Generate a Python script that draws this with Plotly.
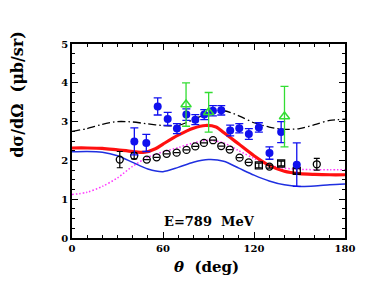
import plotly.graph_objects as go

# ---- theory curves ----
red_theta = [0, 10, 20, 30, 40, 48, 55, 60, 70, 80, 88, 95, 100, 105, 110, 120, 130, 140, 150, 160, 170, 180]
red_vals = [2.32, 2.32, 2.31, 2.27, 2.23, 2.21, 2.30, 2.42, 2.65, 2.83, 2.90, 2.86, 2.72, 2.57, 2.42, 2.12, 1.87, 1.72, 1.66, 1.64, 1.63, 1.63]

blue_theta = [0, 10, 20, 30, 40, 50, 60, 70, 80, 90, 100, 110, 120, 130, 140, 150, 160, 170, 180]
blue_vals = [2.22, 2.23, 2.21, 2.12, 1.95, 1.78, 1.71, 1.82, 1.95, 2.02, 1.98, 1.80, 1.62, 1.47, 1.37, 1.33, 1.34, 1.37, 1.39]

mag_theta = [0, 10, 20, 30, 40, 50, 60, 70, 80, 90, 100, 110, 120, 130, 140, 150, 160, 170, 180]
mag_vals = [1.12, 1.18, 1.33, 1.55, 1.85, 2.08, 2.22, 2.33, 2.45, 2.52, 2.45, 2.25, 2.05, 1.88, 1.80, 1.77, 1.76, 1.76, 1.76]

dd_theta = [0, 10, 20, 30, 40, 50, 60, 70, 80, 90, 100, 110, 120, 130, 140, 150, 160, 170, 180]
dd_vals = [2.75, 2.82, 2.93, 3.00, 2.99, 2.94, 2.90, 2.90, 3.05, 3.22, 3.28, 3.15, 2.97, 2.86, 2.80, 2.82, 2.92, 3.03, 3.06]

# ---- data ----
blue_pts_theta = [41.1, 49.0, 56.5, 63.1, 69.2, 75.4, 81.3, 87.2, 92.9, 98.4, 104.3, 110.3, 116.6, 123.2, 130.2, 137.9, 148.2]
blue_pts_vals = [2.49, 2.45, 3.39, 3.07, 2.82, 3.18, 3.05, 3.18, 3.28, 3.29, 2.77, 2.83, 2.68, 2.85, 2.19, 2.73, 1.89]
blue_pts_err = [0.35, 0.22, 0.22, 0.17, 0.13, 0.15, 0.13, 0.13, 0.13, 0.12, 0.14, 0.12, 0.14, 0.12, 0.16, 0.27, 0.56]

green_theta = [75.2, 90.1, 140.1]
green_vals = [3.44, 3.24, 3.13]
green_err = [0.56, 0.51, 0.78]

circ_theta = [31.5, 41.0, 49.3, 55.8, 62.4, 69.0, 75.5, 81.3, 87.0, 93.0, 98.4, 104.0, 110.5, 116.5, 130.2, 161.4]
circ_vals = [2.02, 2.12, 2.02, 2.08, 2.17, 2.20, 2.27, 2.36, 2.45, 2.52, 2.37, 2.28, 2.07, 1.95, 1.84, 1.90]
circ_err = [0.21, 0.08, 0, 0, 0, 0, 0, 0, 0, 0, 0, 0, 0, 0, 0.04, 0.15]

sq_theta = [123.2, 137.9, 148.2]
sq_vals = [1.87, 1.92, 1.73]
sq_err = [0.06, 0.06, 0.06]

x_ticks = [0, 60, 120, 180]
y_ticks = [0, 1, 2, 3, 4, 5]

FONT = "DejaVu Serif"

fig = go.Figure()
fig.add_trace(go.Scatter(x=dd_theta, y=dd_vals, mode="lines",
                         line=dict(color="black", width=1.3, dash="8px,3px,1.5px,3px", shape="spline", smoothing=0.8)))
fig.add_trace(go.Scatter(x=mag_theta, y=mag_vals, mode="lines",
                         line=dict(color="#ff33ff", width=1.5, dash="1.5px,2px", shape="spline", smoothing=0.8)))
fig.add_trace(go.Scatter(x=blue_theta, y=blue_vals, mode="lines",
                         line=dict(color="#1f2fe0", width=1.5, shape="spline", smoothing=0.8)))
fig.add_trace(go.Scatter(x=red_theta, y=red_vals, mode="lines",
                         line=dict(color="#ff1010", width=3.2, shape="spline", smoothing=0.8)))

fig.add_trace(go.Scatter(x=circ_theta, y=circ_vals, mode="markers",
                         marker=dict(symbol="circle-open", size=7, color="black", line=dict(width=1.3)),
                         error_y=dict(type="data", array=circ_err, color="black", thickness=1.2, width=3)))
fig.add_trace(go.Scatter(x=sq_theta, y=sq_vals, mode="markers",
                         marker=dict(symbol="square-open", size=7, color="black", line=dict(width=1.3)),
                         error_y=dict(type="data", array=sq_err, color="black", thickness=1.2, width=3)))
fig.add_trace(go.Scatter(x=blue_pts_theta, y=blue_pts_vals, mode="markers",
                         marker=dict(symbol="circle", size=8, color="#1010ee"),
                         error_y=dict(type="data", array=blue_pts_err, color="#1010ee", thickness=1.3, width=4)))
fig.add_trace(go.Scatter(x=green_theta, y=green_vals, mode="markers",
                         marker=dict(symbol="triangle-up-open", size=9, color="#33dd33", line=dict(width=1.5)),
                         error_y=dict(type="data", array=green_err, color="#33dd33", thickness=1.3, width=4)))

axis_common = dict(showgrid=False, zeroline=False, showline=True, linecolor="black", linewidth=1.5,
                   mirror="allticks", ticks="inside", ticklen=6, tickwidth=1.2, tickcolor="black",
                   tickfont=dict(family=FONT, size=10, color="black", weight="bold"))

fig.update_xaxes(range=[0, 180], tickvals=x_ticks, ticktext=[str(v) for v in x_ticks],
                 minor=dict(dtick=10, ticks="inside", ticklen=3, tickcolor="black", tickwidth=1),
                 **axis_common)
fig.update_yaxes(range=[0, 5], tickvals=y_ticks, ticktext=[str(v) for v in y_ticks],
                 minor=dict(dtick=0.25, ticks="inside", ticklen=3, tickcolor="black", tickwidth=1),
                 **axis_common)

fig.add_annotation(x=90.5, y=0.42, xref="x", yref="y", text="E=789  MeV", showarrow=False,
                   font=dict(family=FONT, size=13, color="black", weight="bold"))
fig.add_annotation(x=0.494, y=-0.152, xref="paper", yref="paper", text="<i>θ</i>  (deg)", showarrow=False,
                   xanchor="center", yanchor="middle",
                   font=dict(family=FONT, size=15, color="black", weight="bold"))
fig.add_annotation(x=-0.2, y=0.74, xref="paper", yref="paper", text="dσ/dΩ  (μb/sr)", showarrow=False,
                   textangle=-90, xanchor="center", yanchor="middle",
                   font=dict(family=FONT, size=16, color="black", weight="bold"))

fig.update_layout(width=382, height=295, margin=dict(l=64, r=45, t=36, b=65),
                  plot_bgcolor="white", paper_bgcolor="white", showlegend=False)

fig.write_html("out.html")
